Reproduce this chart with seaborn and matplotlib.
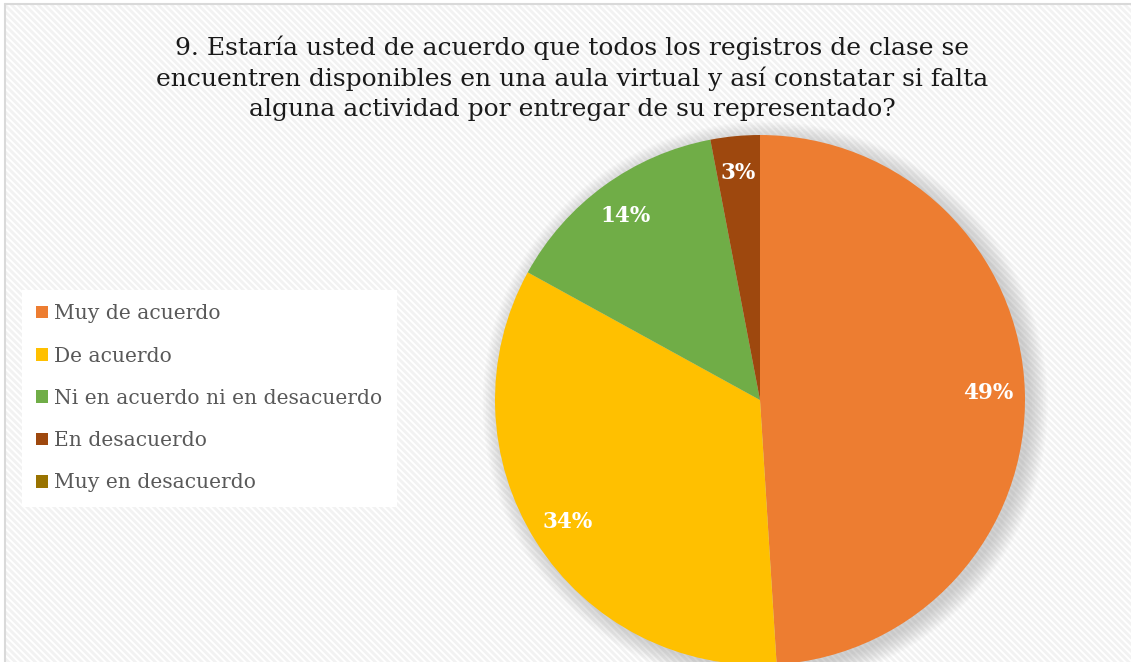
"""Pie chart: registros de clase en aula virtual."""
import matplotlib

matplotlib.use("Agg")
import matplotlib.pyplot as plt
import seaborn as sns
from matplotlib.patches import Circle, Rectangle

categories = [
    "Muy de acuerdo",
    "De acuerdo",
    "Ni en acuerdo ni en desacuerdo",
    "En desacuerdo",
    "Muy en desacuerdo",
]
percentages = [49, 34, 14, 3, 0]
colors = ["#ED7D31", "#FFC000", "#70AD47", "#9E480E", "#997300"]
title = (
    "9. Estaría usted de acuerdo que todos los registros de clase se\n"
    "encuentren disponibles en una aula virtual y así constatar si falta\n"
    "alguna actividad por entregar de su representado?"
)

sns.set_theme(style="white")
plt.rcParams["font.family"] = ["DejaVu Serif"]
plt.rcParams["hatch.color"] = "#f2f2f2"
plt.rcParams["hatch.linewidth"] = 2.0

W, H = 1131, 662
fig = plt.figure(figsize=(W / 100, H / 100), dpi=100)
fig.patch.set_facecolor("white")

# striped chart background with thin border on top / left
bg = Rectangle((5 / W, 0), 1, 1 - 4 / H, transform=fig.transFigure,
               facecolor="white", edgecolor="#f2f2f2", hatch="\\" * 5, lw=0, zorder=-10)
fig.patches.append(bg)
fig.add_artist(plt.Line2D([5 / W, 1], [1 - 4 / H, 1 - 4 / H], transform=fig.transFigure,
                          color="#d9d9d9", lw=1.5))
fig.add_artist(plt.Line2D([5 / W, 5 / W], [0, 1 - 4 / H], transform=fig.transFigure,
                          color="#d9d9d9", lw=1.5))

# pie axes: centre (760, 400) px, radius 265 px
r = 265
cx, cy = 760, 400
ax = fig.add_axes([(cx - r) / W, (H - cy - r) / H, 2 * r / W, 2 * r / H])
ax.set_facecolor("none")

# soft shadow, mostly towards lower right
for i in range(12):
    ax.add_patch(Circle((0.02, -0.015), 1.0 + i * 0.006, color="#808080",
                        alpha=0.03, lw=0, zorder=0, clip_on=False))

wedges, texts, autotexts = ax.pie(
    percentages,
    colors=colors,
    startangle=90,
    counterclock=False,
    autopct=lambda p: f"{p:.0f}%" if p > 0 else "",
    pctdistance=0.86,
    radius=1.0,
    wedgeprops={"linewidth": 0},
    textprops={"color": "white", "fontsize": 15.5, "fontweight": "bold"},
)
for w in wedges:
    w.set_zorder(2)
    w.set_clip_on(False)
for t in autotexts:
    t.set_zorder(3)
ax.set_xlim(-1, 1)
ax.set_ylim(-1, 1)
ax.set_aspect("equal")
ax.axis("off")

fig.text(572 / W, 1 - 78 / H, title, ha="center", va="center", fontsize=18,
         color="#1a1a1a", linespacing=1.36)

# legend
handles = [Rectangle((0, 0), 1, 1, facecolor=c, edgecolor="none") for c in colors]
leg = fig.legend(
    handles, categories,
    loc="upper left",
    bbox_to_anchor=(22 / W, 1 - 290 / H),
    frameon=True,
    fancybox=False,
    facecolor="white",
    edgecolor="none",
    framealpha=1,
    fontsize=14.6,
    labelcolor="#595959",
    handlelength=0.6,
    handleheight=0.6,
    handletextpad=0.3,
    labelspacing=1.15,
    borderpad=0.7,
    borderaxespad=0,
)

fig.savefig("out.png", dpi=100)
